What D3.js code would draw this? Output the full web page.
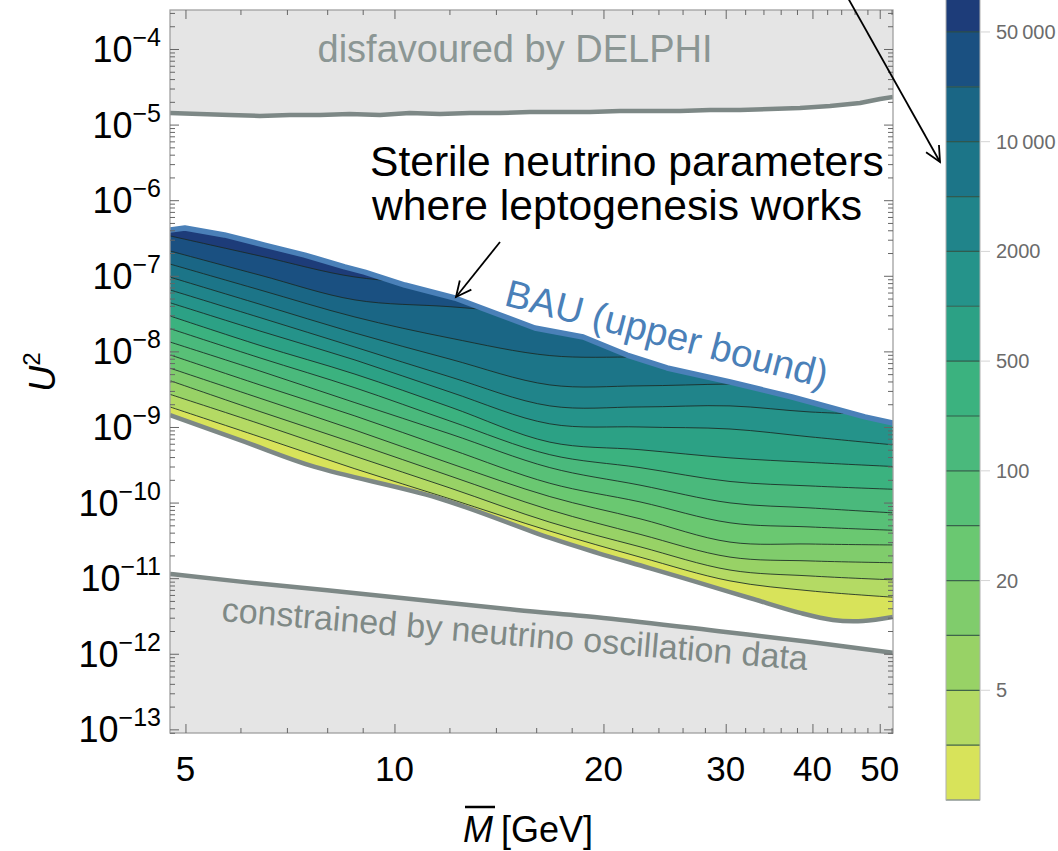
<!DOCTYPE html>
<html><head><meta charset="utf-8">
<script src="https://cdn.jsdelivr.net/npm/d3@7"></script>
<style>body{margin:0;background:#fff}svg{display:block}</style>
</head><body>
<svg id="chart" width="1058" height="851"></svg>
<script>
// ---------------- DATA ----------------
// sampling masses (GeV) for the contour lines
const massGrid = [4.75, 6.4, 8.77, 12.02, 16.74, 22.58, 30.43, 39.68, 52.25];
const contourLevels = [2, 5, 10, 20, 50, 100, 200, 500, 1000, 2000, 5000, 10000, 20000, 50000];
const contour2     = [1.84e-9, 7.4e-10, 2.8e-10, 1.12e-10, 4.2e-11, 1.9e-11, 9.2e-12, 6.8e-12, 5.6e-12];
const contour5     = [2.7e-9, 1.1e-9, 4.1e-10, 1.56e-10, 5.5e-11, 2.6e-11, 1.28e-11, 1.07e-11, 9.5e-12];
const contour10    = [4.1e-9, 1.6e-9, 6.1e-10, 2.25e-10, 8.0e-11, 3.8e-11, 1.9e-11, 1.69e-11, 1.6e-11];
const contour20    = [6.0e-9, 2.4e-9, 9.1e-10, 3.3e-10, 1.2e-10, 6.1e-11, 3.0e-11, 2.83e-11, 2.75e-11];
const contour50    = [9.0e-9, 3.6e-9, 1.4e-9, 5.1e-10, 1.8e-10, 1.02e-10, 5.4e-11, 4.76e-11, 4.3e-11];
const contour100   = [1.33e-8, 5.5e-9, 2.1e-9, 8.1e-10, 2.9e-10, 1.7e-10, 9.9e-11, 8.5e-11, 7.3e-11];
const contour200   = [2.0e-8, 8.2e-9, 3.3e-9, 1.2e-9, 4.3e-10, 2.9e-10, 1.9e-10, 1.66e-10, 1.5e-10];
const contour500   = [2.94e-8, 1.2e-8, 5.0e-9, 1.84e-9, 6.3e-10, 5.0e-10, 3.9e-10, 3.4e-10, 3.0e-10];
const contour1000  = [4.4e-8, 1.86e-8, 7.7e-9, 2.9e-9, 1.1e-9, 1.0e-9, 9.4e-10, 7.4e-10, 5.8e-10];
const contour2000  = [6.5e-8, 2.8e-8, 1.14e-8, 4.6e-9, 1.9e-9, 1.84e-9, 1.9e-9, 1.58e-9, 1.44e-9];
const contour5000  = [9.6e-8, 4.2e-8, 1.75e-8, 7.9e-9, 3.6e-9, 3.5e-9, 3.7e-9, 3.7e-9, 3.6e-9];
const contour10000 = [1.43e-7, 6.5e-8, 2.85e-8, 1.5e-8, 8.8e-9, 8.4e-9, 8.2e-9, 7.9e-9, 7.7e-9];
const contour20000 = [2.13e-7, 1.02e-7, 4.8e-8, 3.9e-8, 3.1e-8, 2.8e-8, 2.6e-8, 2.45e-8, 2.3e-8];
const contour50000 = [3.37e-7, 1.83e-7, 9.64e-8, 7.8e-8, 6.9e-8, 6.5e-8, 6.1e-8, 5.7e-8, 5.4e-8];

// BAU upper bound
const bauMass = [4.75, 4.99, 5.69, 6.50, 7.43, 8.48, 9.06, 10.35, 12.22, 13.95, 15.93, 18.70, 21.63, 24.70, 30.45, 37.38, 47.6, 52.25];
const bauU2   = [4.04e-7, 4.29e-7, 3.47e-7, 2.55e-7, 1.88e-7, 1.31e-7, 1.12e-7, 7.55e-8, 5.08e-8, 3.22e-8, 2.04e-8, 1.55e-8, 8.95e-9, 6.03e-9, 3.94e-9, 2.49e-9, 1.36e-9, 1.13e-9];
// lower edge of the leptogenesis region
const lowerMass = [4.75, 6.09, 7.68, 11.55, 16.75, 19.63, 23.3, 27.5, 32.5, 38.4, 42.8, 47.3, 52.25];
const lowerU2   = [1.44e-9, 6.34e-10, 2.96e-10, 1.15e-10, 3.40e-11, 2.15e-11, 1.36e-11, 8.65e-12, 5.47e-12, 3.47e-12, 2.80e-12, 2.72e-12, 3.07e-12];
// DELPHI bound
const delphiMass = [4.75, 5.24, 5.79, 6.40, 7.07, 7.81, 8.62, 9.53, 10.52, 11.63, 12.84, 14.19, 15.67, 17.31, 19.12, 21.12, 23.34, 25.78, 28.48, 31.46, 34.75, 38.38, 42.41, 46.84, 50.06, 52.25];
const delphiU2   = [1.42e-5, 1.38e-5, 1.34e-5, 1.30e-5, 1.34e-5, 1.34e-5, 1.38e-5, 1.34e-5, 1.42e-5, 1.38e-5, 1.42e-5, 1.42e-5, 1.47e-5, 1.47e-5, 1.47e-5, 1.51e-5, 1.51e-5, 1.51e-5, 1.56e-5, 1.56e-5, 1.61e-5, 1.66e-5, 1.76e-5, 1.93e-5, 2.18e-5, 2.32e-5];
// neutrino oscillation (seesaw) bound
const oscMass = [4.75, 6, 8, 10, 15, 20, 30, 40, 52.25];
const oscU2   = [1.14e-11, 9.0e-12, 6.9e-12, 5.6e-12, 3.8e-12, 2.98e-12, 1.94e-12, 1.42e-12, 1.03e-12];

// colour bar
const colorbarBounds = [1, 2, 5, 10, 20, 50, 100, 200, 500, 1000, 2000, 5000, 10000, 20000, 50000, 100000];
const bandColors = ["#d8e35a","#b4da64","#98d266","#80cc6c","#6ac871","#58c077","#4ab97c","#3bb27f",
                    "#2ca185","#25938a","#20848a","#1c7588","#1a6685","#1a5081","#1d3c79"];
const colorbarTicks = [5, 20, 100, 500, 2000, 10000, 50000];
const colorbarTickLabels = ["5", "20", "100", "500", "2000", "10\u2009000", "50\u2009000"];

// axes
const xTickValues = [5, 10, 20, 30, 40, 50];
const xMinorTicks = [6, 7, 8, 9, 12, 14, 16, 18, 22, 24, 26, 28, 32, 34, 36, 38, 42, 44, 46, 48, 52];
const yTickExponents = [-4, -5, -6, -7, -8, -9, -10, -11, -12, -13];

// ---------------- DRAWING ----------------
const contours = [contour2, contour5, contour10, contour20, contour50, contour100, contour200,
                  contour500, contour1000, contour2000, contour5000, contour10000, contour20000, contour50000];
const FONT = "'Liberation Sans', Arial, Helvetica, sans-serif";
const svg = d3.select("#chart");
const plot = {left: 170, right: 893, top: 10, bottom: 733};
const x = d3.scaleLog().domain([4.75, 52.25]).range([plot.left, plot.right]);
const y = d3.scaleLog().domain([3.28e-4, 8.95e-14]).range([plot.top, plot.bottom]);
const smooth = d3.curveCatmullRom.alpha(0.5);

const bauPts = bauMass.map((m, i) => [x(m), y(bauU2[i])]);
const lowerPts = lowerMass.map((m, i) => [x(m), y(lowerU2[i])]);
const smoothPath = d3.line().curve(smooth);
const regionD = d3.line()(bauPts) + "L" + smoothPath(lowerPts.slice().reverse()).slice(1) + "Z";

const defs = svg.append("defs");
defs.append("clipPath").attr("id", "plotClip").append("rect")
  .attr("x", plot.left).attr("y", plot.top)
  .attr("width", plot.right - plot.left).attr("height", plot.bottom - plot.top);
defs.append("clipPath").attr("id", "regionClip").append("path").attr("d", regionD);

const gPlot = svg.append("g").attr("clip-path", "url(#plotClip)");
const GRAY = "#e5e5e5";
const lineGray = "#7d8886";

// DELPHI excluded area
gPlot.append("path").datum(delphiMass.map((m, i) => [m, delphiU2[i]]))
  .attr("fill", GRAY)
  .attr("d", d3.area().x(d => x(d[0])).y0(plot.top - 5).y1(d => y(d[1])));
// oscillation-constrained area
gPlot.append("path").datum(oscMass.map((m, i) => [m, oscU2[i]]))
  .attr("fill", GRAY)
  .attr("d", d3.area().x(d => x(d[0])).y0(plot.bottom + 5).y1(d => y(d[1])).curve(d3.curveMonotoneX));

// leptogenesis region: filled contours
const gReg = gPlot.append("g").attr("clip-path", "url(#regionClip)");
gReg.append("rect").attr("x", plot.left).attr("y", plot.top)
  .attr("width", plot.right - plot.left).attr("height", plot.bottom - plot.top)
  .attr("fill", bandColors[0]);
const bandArea = d3.area().x(d => x(d[0])).y0(plot.top - 20).y1(d => y(d[1])).curve(smooth);
const cLine = d3.line().x(d => x(d[0])).y(d => y(d[1])).curve(smooth);
contours.forEach((c, i) => {
  gReg.append("path").datum(massGrid.map((m, j) => [m, c[j]]))
    .attr("fill", bandColors[i + 1]).attr("d", bandArea);
});
contours.forEach((c) => {
  gReg.append("path").datum(massGrid.map((m, j) => [m, c[j]]))
    .attr("fill", "none").attr("stroke", "#1b2a24").attr("stroke-opacity", 0.85)
    .attr("stroke-width", 1).attr("d", cLine);
});

// boundary lines
gPlot.append("path").datum(delphiMass.map((m, i) => [m, delphiU2[i]]))
  .attr("fill", "none").attr("stroke", lineGray).attr("stroke-width", 4.5)
  .attr("stroke-linejoin", "round").attr("d", d3.line().x(d => x(d[0])).y(d => y(d[1])));
gPlot.append("path").datum(oscMass.map((m, i) => [m, oscU2[i]]))
  .attr("fill", "none").attr("stroke", lineGray).attr("stroke-width", 4.5)
  .attr("d", d3.line().x(d => x(d[0])).y(d => y(d[1])).curve(d3.curveMonotoneX));
gPlot.append("path").datum(lowerMass.map((m, i) => [m, lowerU2[i]]))
  .attr("fill", "none").attr("stroke", lineGray).attr("stroke-width", 4.5)
  .attr("stroke-linejoin", "round").attr("d", d3.line().x(d => x(d[0])).y(d => y(d[1])).curve(smooth));
gPlot.append("path").datum(bauMass.map((m, i) => [m, bauU2[i]]))
  .attr("fill", "none").attr("stroke", "#4a80b8").attr("stroke-width", 5.5)
  .attr("stroke-linejoin", "round").attr("stroke-linecap", "round")
  .attr("d", d3.line().x(d => x(d[0])).y(d => y(d[1])));

// frame
svg.append("rect").attr("x", plot.left).attr("y", plot.top)
  .attr("width", plot.right - plot.left).attr("height", plot.bottom - plot.top)
  .attr("fill", "none").attr("stroke", "#a0a0a0").attr("stroke-width", 1.3);

// ticks
function tickGroup(axis, tx, ty) {
  const g = svg.append("g").attr("transform", `translate(${tx},${ty})`).call(axis);
  g.select(".domain").remove();
  g.selectAll("text").remove();
  g.selectAll("line").attr("stroke", "#666").attr("stroke-width", 1);
}
const yMajor = yTickExponents.map(e => Math.pow(10, e));
const yMinor = [];
for (let e = -14; e <= -4; e++) for (let k = 2; k <= 9; k++) {
  const v = k * Math.pow(10, e);
  if (v < 3.28e-4 && v > 8.95e-14) yMinor.push(v);
}
tickGroup(d3.axisLeft(y).tickValues(yMajor).tickSize(-9), plot.left, 0);
tickGroup(d3.axisLeft(y).tickValues(yMinor).tickSize(-5), plot.left, 0);
tickGroup(d3.axisRight(y).tickValues(yMajor).tickSize(-9), plot.right, 0);
tickGroup(d3.axisRight(y).tickValues(yMinor).tickSize(-5), plot.right, 0);
tickGroup(d3.axisBottom(x).tickValues(xTickValues).tickSize(-9), 0, plot.bottom);
tickGroup(d3.axisBottom(x).tickValues(xMinorTicks).tickSize(-5), 0, plot.bottom);
tickGroup(d3.axisTop(x).tickValues(xTickValues).tickSize(-9), 0, plot.top);
tickGroup(d3.axisTop(x).tickValues(xMinorTicks).tickSize(-5), 0, plot.top);

// y tick labels
yTickExponents.forEach(e => {
  const t = svg.append("text").attr("x", 161).attr("y", y(Math.pow(10, e)) + 13)
    .attr("text-anchor", "end").attr("font-family", FONT).attr("fill", "#000");
  t.append("tspan").attr("font-size", 36).text("10");
  t.append("tspan").attr("font-size", 25).attr("dy", -16).text("\u2212" + Math.abs(e));
});
// x tick labels
xTickValues.forEach(v => {
  svg.append("text").attr("x", x(v)).attr("y", 781).attr("text-anchor", "middle")
    .attr("font-family", FONT).attr("font-size", 35).text(v);
});

// x title: M-bar [GeV]
const mText = svg.append("text").attr("x", 463).attr("y", 842).attr("font-family", FONT)
  .attr("font-size", 36).attr("font-style", "italic").text("M");
const mW = mText.node().getComputedTextLength();
svg.append("text").attr("x", 463 + mW + 8).attr("y", 842).attr("font-family", FONT)
  .attr("font-size", 36).text("[GeV]");
svg.append("line").attr("x1", 465).attr("x2", 463 + mW + 2).attr("y1", 807).attr("y2", 807)
  .attr("stroke", "#000").attr("stroke-width", 2.5);

// y title: U^2
const yt = svg.append("text").attr("transform", "translate(55,372) rotate(-90)")
  .attr("text-anchor", "middle").attr("font-family", FONT);
yt.append("tspan").attr("font-size", 36).attr("font-style", "italic").text("U");
yt.append("tspan").attr("font-size", 24).attr("dy", -15).text("2");

// annotations
svg.append("text").attr("x", 515).attr("y", 62).attr("text-anchor", "middle")
  .attr("font-family", FONT).attr("font-size", 38).attr("fill", "#8b9694")
  .text("disfavoured by DELPHI");
svg.append("text").attr("transform", "translate(221,621) rotate(4.8)")
  .attr("font-family", FONT).attr("font-size", 34).attr("fill", "#7f8986")
  .text("constrained by neutrino oscillation data");
svg.append("text").attr("transform", "translate(503,305) rotate(14.5)")
  .attr("font-family", FONT).attr("font-size", 38.5).attr("fill", "#4a80b8")
  .text("BAU (upper bound)");
svg.append("text").attr("x", 370).attr("y", 176).attr("font-family", FONT)
  .attr("font-size", 42.6).attr("fill", "#000").text("Sterile neutrino parameters");
svg.append("text").attr("x", 372).attr("y", 220).attr("font-family", FONT)
  .attr("font-size", 42.6).attr("fill", "#000").text("where leptogenesis works");

function arrow(x1, y1, x2, y2) {
  svg.append("line").attr("x1", x1).attr("y1", y1).attr("x2", x2).attr("y2", y2)
    .attr("stroke", "#000").attr("stroke-width", 1.8);
  const a = Math.atan2(y2 - y1, x2 - x1), L = 17, s = 0.45;
  const p1 = [x2 - L * Math.cos(a - s), y2 - L * Math.sin(a - s)];
  const p2 = [x2 - L * Math.cos(a + s), y2 - L * Math.sin(a + s)];
  svg.append("path").attr("d", `M${p1}L${x2},${y2}L${p2}`)
    .attr("fill", "none").attr("stroke", "#000").attr("stroke-width", 1.8);
}
arrow(500, 242, 456, 297);
arrow(848, -2, 940, 162);

// colour bar
const cbX = 946, cbW = 34;
const cb = d3.scaleLinear().domain([0, 15]).range([800, 800 - 15 * 54.86]);
const gCb = svg.append("g");
bandColors.forEach((c, i) => {
  gCb.append("rect").attr("x", cbX).attr("y", cb(i + 1)).attr("width", cbW)
    .attr("height", cb(i) - cb(i + 1)).attr("fill", c);
});
colorbarBounds.forEach((b, i) => {
  if (i === colorbarBounds.length - 1) return;
  gCb.append("line").attr("x1", cbX).attr("x2", cbX + cbW).attr("y1", cb(i)).attr("y2", cb(i))
    .attr("stroke", "#2b4f40").attr("stroke-width", 1.2).attr("stroke-opacity", 0.85);
});
gCb.append("rect").attr("x", cbX).attr("y", cb(15)).attr("width", cbW).attr("height", cb(0) - cb(15))
  .attr("fill", "none").attr("stroke", "#b0b0b0").attr("stroke-width", 1);
colorbarTicks.forEach((v, k) => {
  const yy = cb(colorbarBounds.indexOf(v));
  gCb.append("line").attr("x1", cbX + cbW).attr("x2", cbX + cbW + 10).attr("y1", yy).attr("y2", yy)
    .attr("stroke", "#d4d4d4").attr("stroke-width", 1);
  gCb.append("text").attr("x", 996).attr("y", yy + 7).attr("font-family", FONT)
    .attr("font-size", 20).attr("fill", "#6b6b6b").text(colorbarTickLabels[k]);
});
</script>
</body></html>
